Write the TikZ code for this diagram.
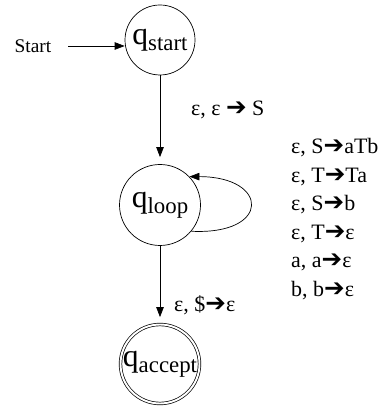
\documentclass[tikz,border=0pt]{standalone}
\usepackage{fontspec}
\setmainfont{Liberation Serif}
\newfontfamily\arrowfont{DejaVu Sans}
\usetikzlibrary{arrows.meta, positioning}

\newcommand{\yields}{{\arrowfont\fontsize{14}{14}\selectfont ➔}}
\newcommand{\qname}[1]{q\raisebox{-3.6pt}{\fontsize{13}{13}\selectfont #1}}

\begin{document}
\begin{tikzpicture}[
    every node/.style={font=\fontsize{12.5}{16.2}\selectfont},
    state/.style={circle, draw, thin, inner sep=0pt, font=\fontsize{18}{20}\selectfont},
    accepting/.style={double, double distance=1.1pt},
    arr/.style={-{Triangle[length=2mm, width=1.5mm]}, thin, shorten >=4pt}
]
\useasboundingbox (0,0) rectangle (7.74,8.12);

% --- states ---
\node[state, minimum size=1.4cm]             (qstart)  at (3.2, 7.32) {\qname{start}};
\node[state, minimum size=1.62cm]            (qloop)   at (3.2, 4.02) {\qname{loop}};
\node[state, accepting, minimum size=1.58cm] (qaccept) at (3.2, 0.84) {\makebox[0pt]{\raisebox{-5pt}{\qname{accept}}}};

% --- start arrow ---
\node[font=\fontsize{11}{13}\selectfont] (start) at (0.66, 7.2) {Start};
\draw[arr, shorten >=0pt, shorten <=6pt] (start.east) -- (start.east -| qstart.west);

% --- transitions ---
\draw[arr] (qstart) -- (qloop);
\node[anchor=west] (lblpush) at (3.7, 5.92) {ε, ε \yields{} S};

\draw[arr, shorten >=0pt] (qloop.-40) .. controls +(1.6,-0.08) and +(1.6,0) .. (qloop.44);
\node[anchor=west, align=left] (lblrules) at (5.7, 3.74)
  {ε, S\yields aTb\\ ε, T\yields Ta\\ ε, S\yields b\\ ε, T\yields ε\\ a, a\yields ε\\ b, b\yields ε};

\draw[arr] (qloop) -- (qaccept);
\node[anchor=west] (lblpop) at (3.36, 2.02) {ε, \$\yields ε};

\end{tikzpicture}
\end{document}
